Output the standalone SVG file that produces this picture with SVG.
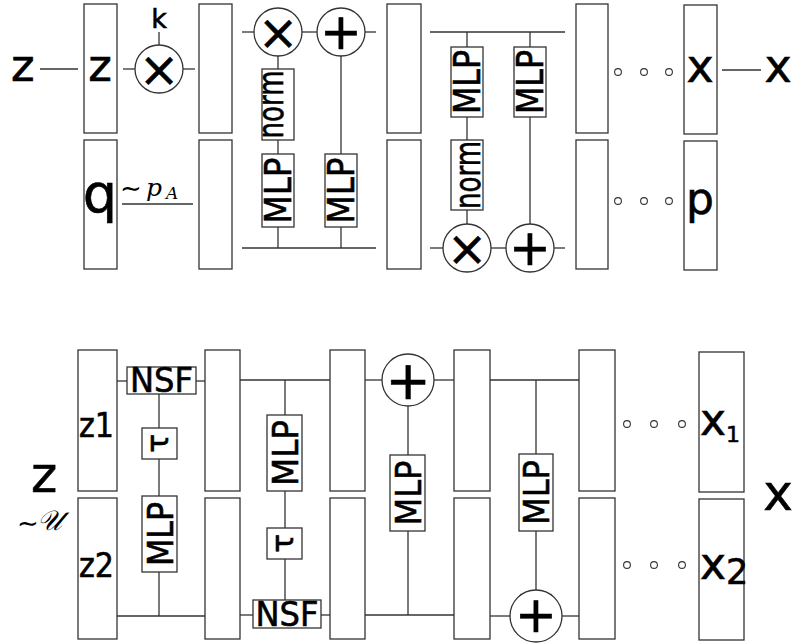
<svg xmlns="http://www.w3.org/2000/svg" width="795" height="643" viewBox="0 0 795 643">
<style>
.bx{fill:#fff;stroke:#333;stroke-width:1.3}
.ln{stroke:#333;stroke-width:1.3;fill:none}
.op{fill:#fff;stroke:#333;stroke-width:1.3}
.dot{fill:#fff;stroke:#333;stroke-width:1.1}
.t{font-family:"DejaVu Sans",sans-serif;fill:#000;stroke:#000;stroke-width:0.6}
.sym{font-family:"DejaVu Sans",sans-serif;fill:#000;stroke:#000;stroke-width:0.6;text-anchor:middle;dominant-baseline:central}
.m{font-family:"DejaVu Serif","Liberation Serif",serif;font-style:italic;fill:#000}
.tl{font-family:"DejaVu Sans",sans-serif;fill:#000}
</style>
<rect width="795" height="643" fill="#fff"/>

<g id="connectors">
  <line class="ln" x1="40" y1="69" x2="78" y2="69"/>
  <line class="ln" x1="123" y1="69" x2="135" y2="69"/>
  <line class="ln" x1="183" y1="69" x2="195" y2="69"/>
  <line class="ln" x1="159" y1="32" x2="159" y2="45"/>
  <line class="ln" x1="122" y1="204" x2="193" y2="204"/>
  <line class="ln" x1="242" y1="32" x2="254" y2="32"/>
  <line class="ln" x1="302" y1="32" x2="317" y2="32"/>
  <line class="ln" x1="365" y1="32" x2="376" y2="32"/>
  <line class="ln" x1="278" y1="56" x2="278" y2="69"/>
  <line class="ln" x1="278" y1="140" x2="278" y2="154"/>
  <line class="ln" x1="278" y1="227" x2="278" y2="248"/>
  <line class="ln" x1="341" y1="56" x2="341" y2="154"/>
  <line class="ln" x1="341" y1="227" x2="341" y2="248"/>
  <line class="ln" x1="242" y1="248" x2="376" y2="248"/>
  <line class="ln" x1="430" y1="32" x2="565" y2="32"/>
  <line class="ln" x1="467" y1="32" x2="467" y2="47"/>
  <line class="ln" x1="467" y1="117" x2="467" y2="140"/>
  <line class="ln" x1="467" y1="210" x2="467" y2="224"/>
  <line class="ln" x1="530" y1="32" x2="530" y2="47"/>
  <line class="ln" x1="530" y1="117" x2="530" y2="224"/>
  <line class="ln" x1="430" y1="248" x2="443" y2="248"/>
  <line class="ln" x1="491" y1="248" x2="506" y2="248"/>
  <line class="ln" x1="554" y1="248" x2="565" y2="248"/>
  <line class="ln" x1="722" y1="70" x2="761" y2="70"/>
  <line class="ln" x1="117" y1="381" x2="127" y2="381"/>
  <line class="ln" x1="196" y1="381" x2="205" y2="381"/>
  <line class="ln" x1="159" y1="394" x2="159" y2="428"/>
  <line class="ln" x1="159" y1="459" x2="159" y2="496"/>
  <line class="ln" x1="159" y1="572" x2="159" y2="616"/>
  <line class="ln" x1="117" y1="616" x2="205" y2="616"/>
  <line class="ln" x1="240" y1="380" x2="330" y2="380"/>
  <line class="ln" x1="285" y1="380" x2="285" y2="415"/>
  <line class="ln" x1="285" y1="491" x2="285" y2="528"/>
  <line class="ln" x1="285" y1="559" x2="285" y2="600"/>
  <line class="ln" x1="240" y1="615" x2="253" y2="615"/>
  <line class="ln" x1="321" y1="615" x2="330" y2="615"/>
  <line class="ln" x1="365" y1="380" x2="382" y2="380"/>
  <line class="ln" x1="434" y1="380" x2="454" y2="380"/>
  <line class="ln" x1="408" y1="406" x2="408" y2="455"/>
  <line class="ln" x1="408" y1="531" x2="408" y2="615"/>
  <line class="ln" x1="365" y1="615" x2="454" y2="615"/>
  <line class="ln" x1="490" y1="380" x2="579" y2="380"/>
  <line class="ln" x1="536" y1="380" x2="536" y2="454"/>
  <line class="ln" x1="536" y1="531" x2="536" y2="590"/>
  <line class="ln" x1="490" y1="616" x2="510" y2="616"/>
  <line class="ln" x1="562" y1="616" x2="579" y2="616"/>
</g>

<g id="label-z-in"><text class="t" x="11" y="81" font-size="45">z</text></g>
<g id="block-z">
  <rect class="bx" x="84" y="4" width="33" height="129"/>
  <text class="t" x="100" y="81" font-size="45" text-anchor="middle">z</text>
</g>
<g id="block-q">
  <rect class="bx" x="84" y="140" width="33" height="129"/>
  <text class="t" x="100" y="212" font-size="54" text-anchor="middle">q</text>
</g>
<g id="label-k"><text class="t" x="159" y="28" font-size="27" text-anchor="middle" stroke-width="0.3">k</text></g>
<g id="mul-k">
  <circle class="op" cx="159" cy="69" r="24"/>
  <text class="sym" x="159" y="69" font-size="48">×</text>
</g>
<g id="label-pa">
  <text class="tl" x="120" y="197" font-size="26">∼</text>
  <text class="m" x="146" y="196" font-size="25">p</text>
  <text class="m" x="166" y="199" font-size="17">A</text>
</g>
<g id="block-2a"><rect class="bx" x="199" y="4" width="33" height="129"/></g>
<g id="block-2b"><rect class="bx" x="199" y="140" width="33" height="129"/></g>
<g id="mul-1">
  <circle class="op" cx="278" cy="32" r="24"/>
  <text class="sym" x="278" y="32" font-size="48">×</text>
</g>
<g id="add-1">
  <circle class="op" cx="341" cy="32" r="24"/>
  <text class="sym" x="341" y="32" font-size="50">+</text>
</g>
<g id="norm-1">
  <rect class="bx" x="262" y="69" width="32" height="71"/>
  <text class="t" font-size="35" text-anchor="middle" textLength="68" lengthAdjust="spacingAndGlyphs" transform="translate(283,104.5) rotate(-90)">norm</text>
</g>
<g id="mlp-1">
  <rect class="bx" x="262" y="154" width="32" height="73"/>
  <text class="t" font-size="37" text-anchor="middle" textLength="66" lengthAdjust="spacingAndGlyphs" transform="translate(291,190.5) rotate(-90)">MLP</text>
</g>
<g id="mlp-2">
  <rect class="bx" x="325" y="154" width="32" height="73"/>
  <text class="t" font-size="37" text-anchor="middle" textLength="66" lengthAdjust="spacingAndGlyphs" transform="translate(354,190.5) rotate(-90)">MLP</text>
</g>
<g id="block-3a"><rect class="bx" x="387" y="4" width="34" height="129"/></g>
<g id="block-3b"><rect class="bx" x="387" y="140" width="34" height="129"/></g>
<g id="mlp-3">
  <rect class="bx" x="451" y="47" width="32" height="70"/>
  <text class="t" font-size="37" text-anchor="middle" textLength="64" lengthAdjust="spacingAndGlyphs" transform="translate(480,82) rotate(-90)">MLP</text>
</g>
<g id="norm-2">
  <rect class="bx" x="451" y="140" width="32" height="70"/>
  <text class="t" font-size="35" text-anchor="middle" textLength="68" lengthAdjust="spacingAndGlyphs" transform="translate(480,175) rotate(-90)">norm</text>
</g>
<g id="mlp-4">
  <rect class="bx" x="514" y="47" width="32" height="70"/>
  <text class="t" font-size="37" text-anchor="middle" textLength="64" lengthAdjust="spacingAndGlyphs" transform="translate(543,82) rotate(-90)">MLP</text>
</g>
<g id="mul-2">
  <circle class="op" cx="467" cy="248" r="24"/>
  <text class="sym" x="467" y="248" font-size="48">×</text>
</g>
<g id="add-2">
  <circle class="op" cx="530" cy="248" r="24"/>
  <text class="sym" x="530" y="248" font-size="50">+</text>
</g>
<g id="block-4a"><rect class="bx" x="576" y="4" width="32" height="129"/></g>
<g id="block-4b"><rect class="bx" x="576" y="140" width="32" height="129"/></g>
<g id="dots-top">
  <circle class="dot" cx="618" cy="72" r="3.4"/>
  <circle class="dot" cx="644" cy="72" r="3.4"/>
  <circle class="dot" cx="669" cy="72" r="3.4"/>
  <circle class="dot" cx="618" cy="201" r="3.4"/>
  <circle class="dot" cx="644" cy="201" r="3.4"/>
  <circle class="dot" cx="669" cy="201" r="3.4"/>
</g>
<g id="block-x">
  <rect class="bx" x="684" y="5" width="33" height="129"/>
  <text class="t" x="700" y="82" font-size="46" text-anchor="middle">x</text>
</g>
<g id="block-p">
  <rect class="bx" x="684" y="141" width="33" height="129"/>
  <text class="t" x="700" y="214" font-size="44" text-anchor="middle">p</text>
</g>
<g id="label-x-out"><text class="t" x="778" y="82" font-size="46" text-anchor="middle">x</text></g>

<g id="label-z-bottom">
  <text class="t" x="44" y="492" font-size="50" text-anchor="middle">z</text>
  <text class="tl" x="17" y="532" font-size="26">∼</text>
  <text class="m" x="37" y="530" font-size="28">𝒰</text>
</g>
<g id="block-z1">
  <rect class="bx" x="78" y="350" width="39" height="141"/>
  <text class="t" x="79" y="437" font-size="34" stroke-width="0.3" textLength="35" lengthAdjust="spacingAndGlyphs">z1</text>
</g>
<g id="block-z2">
  <rect class="bx" x="78" y="498" width="39" height="141"/>
  <text class="t" x="79" y="577" font-size="34" stroke-width="0.3" textLength="35" lengthAdjust="spacingAndGlyphs">z2</text>
</g>
<g id="nsf-1">
  <rect class="bx" x="127" y="367" width="69" height="27"/>
  <text class="t" x="161.5" y="392" font-size="33" text-anchor="middle" textLength="63" lengthAdjust="spacingAndGlyphs">NSF</text>
</g>
<g id="tau-1">
  <rect class="bx" x="142" y="428" width="35" height="31"/>
  <text class="t" font-size="31" text-anchor="middle" transform="translate(168,443.5) rotate(-90)">τ</text>
</g>
<g id="mlp-b1">
  <rect class="bx" x="142" y="496" width="35" height="76"/>
  <text class="t" font-size="36" text-anchor="middle" textLength="64" lengthAdjust="spacingAndGlyphs" transform="translate(173,534) rotate(-90)">MLP</text>
</g>
<g id="block-b2a"><rect class="bx" x="205" y="350" width="35" height="141"/></g>
<g id="block-b2b"><rect class="bx" x="205" y="498" width="35" height="141"/></g>
<g id="mlp-b2">
  <rect class="bx" x="267" y="415" width="35" height="76"/>
  <text class="t" font-size="36" text-anchor="middle" textLength="66" lengthAdjust="spacingAndGlyphs" transform="translate(298,453) rotate(-90)">MLP</text>
</g>
<g id="tau-2">
  <rect class="bx" x="267" y="528" width="35" height="31"/>
  <text class="t" font-size="31" text-anchor="middle" transform="translate(293,543.5) rotate(-90)">τ</text>
</g>
<g id="nsf-2">
  <rect class="bx" x="253" y="600" width="68" height="28"/>
  <text class="t" x="287" y="626" font-size="33" text-anchor="middle" textLength="63" lengthAdjust="spacingAndGlyphs">NSF</text>
</g>
<g id="block-b3a"><rect class="bx" x="330" y="350" width="35" height="141"/></g>
<g id="block-b3b"><rect class="bx" x="330" y="498" width="35" height="141"/></g>
<g id="add-b1">
  <circle class="op" cx="408" cy="380" r="26"/>
  <text class="sym" x="408" y="380" font-size="54">+</text>
</g>
<g id="mlp-b3">
  <rect class="bx" x="390" y="455" width="35" height="76"/>
  <text class="t" font-size="36" text-anchor="middle" textLength="65" lengthAdjust="spacingAndGlyphs" transform="translate(421,493) rotate(-90)">MLP</text>
</g>
<g id="block-b4a"><rect class="bx" x="454" y="350" width="36" height="141"/></g>
<g id="block-b4b"><rect class="bx" x="454" y="498" width="36" height="141"/></g>
<g id="mlp-b4">
  <rect class="bx" x="519" y="454" width="34" height="77"/>
  <text class="t" font-size="36" text-anchor="middle" textLength="65" lengthAdjust="spacingAndGlyphs" transform="translate(549,492.5) rotate(-90)">MLP</text>
</g>
<g id="add-b2">
  <circle class="op" cx="536" cy="616" r="26"/>
  <text class="sym" x="536" y="615" font-size="50">+</text>
</g>
<g id="block-b5a"><rect class="bx" x="579" y="350" width="36" height="141"/></g>
<g id="block-b5b"><rect class="bx" x="579" y="498" width="36" height="141"/></g>
<g id="dots-bottom">
  <circle class="dot" cx="627" cy="424" r="3.4"/>
  <circle class="dot" cx="654" cy="424" r="3.4"/>
  <circle class="dot" cx="682" cy="424" r="3.4"/>
  <circle class="dot" cx="627" cy="565" r="3.4"/>
  <circle class="dot" cx="654" cy="565" r="3.4"/>
  <circle class="dot" cx="682" cy="565" r="3.4"/>
</g>
<g id="block-x1">
  <rect class="bx" x="699" y="352" width="45" height="140"/>
  <text class="t" x="700" y="435" font-size="44" stroke-width="0.4">x<tspan font-size="22" dy="7">1</tspan></text>
</g>
<g id="block-x2">
  <rect class="bx" x="699" y="499" width="45" height="141"/>
  <text class="t" x="700" y="579" font-size="44" stroke-width="0.4">x<tspan font-size="35" dy="5">2</tspan></text>
</g>
<g id="label-x-bottom"><text class="t" x="778" y="510" font-size="50" text-anchor="middle">x</text></g>
</svg>
